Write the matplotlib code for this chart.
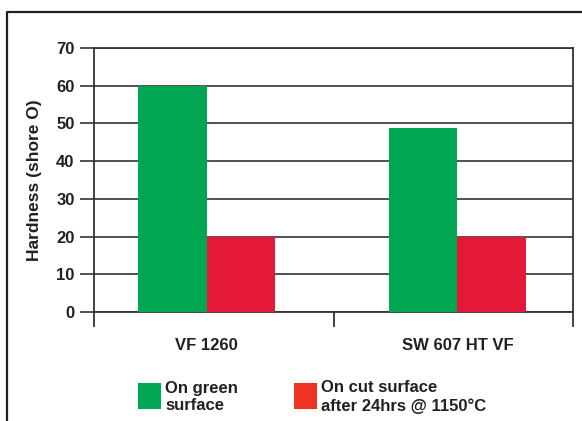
import matplotlib.pyplot as plt
from matplotlib.patches import Rectangle
from matplotlib.lines import Line2D

plt.rcParams['font.family'] = ['Liberation Sans', 'DejaVu Sans']
plt.rcParams['font.weight'] = 'bold'

# data
products = ['VF 1260', 'SW 607 HT VF']
green_surface = [60, 48.8]
cut_surface = [20, 20]
series_labels = ['On green\nsurface', 'On cut surface\nafter 24hrs @ 1150°C']
yticks = [0, 10, 20, 30, 40, 50, 60, 70]

GREEN = '#00A651'
RED_BAR = '#E31937'
RED_LEG = '#EE3224'
INK = '#231F20'
W, H = 582, 421

fig = plt.figure(figsize=(5.82, 4.21), dpi=100)
ax = fig.add_axes([94 / W, 1 - 312 / H, (573 - 94) / W, (312 - 48) / H])

# bar groups sit a little off-centre in the original
shift = [-0.03, 0.017]
x = list(range(len(products)))
xc = [i + s for i, s in zip(x, shift)]
bw = 0.285
ax.bar([c - bw / 2 for c in xc], green_surface, width=bw, color=GREEN, zorder=3)
ax.bar([c + bw / 2 for c in xc], cut_surface, width=bw, color=RED_BAR, zorder=3)

ax.set_xlim(-0.5, len(products) - 0.5)
ax.set_ylim(0, 70)
ax.set_yticks(yticks)
ax.yaxis.grid(True, color='#333333', linewidth=1.2, zorder=1)
ax.set_axisbelow(True)

# boundary ticks between categories, labels on minor ticks
ax.set_xticks([i - 0.5 for i in range(len(products) + 1)])
ax.set_xticklabels([])
ax.set_xticks(xc, minor=True)
ax.set_xticklabels(products, minor=True, fontsize=12, fontweight='bold', color=INK)
ax.tick_params(axis='x', which='major', length=11, width=1.3, color='#333333', direction='out')
ax.tick_params(axis='x', which='minor', length=0, pad=19)
ax.tick_params(axis='y', length=10, width=1.2, color='#333333', labelsize=12,
               labelcolor=INK, pad=4)
for s in ax.spines.values():
    s.set_color('#333333')
    s.set_linewidth(1.3)

ax.set_ylabel('Hardness (shore O)', fontsize=12.5, fontweight='bold', color=INK, labelpad=10)

# outer frame (left and top only)
fig.add_artist(Line2D([7 / W, 7 / W, 1.0], [0.0, 1 - 12 / H, 1 - 12 / H],
                      transform=fig.transFigure, color=INK, linewidth=1.6))

# legend
leg = [(138, GREEN, series_labels[0]), (294, RED_LEG, series_labels[1])]
for x0, c, lab in leg:
    fig.add_artist(Rectangle((x0 / W, 1 - 409 / H), 23 / W, 26 / H,
                             transform=fig.transFigure, facecolor=c, edgecolor='none'))
    fig.text((x0 + 27) / W, 1 - 397 / H, lab, fontsize=12, fontweight='bold',
             color=INK, va='center', ha='left', linespacing=1.25)

fig.savefig('out.png', dpi=100)
